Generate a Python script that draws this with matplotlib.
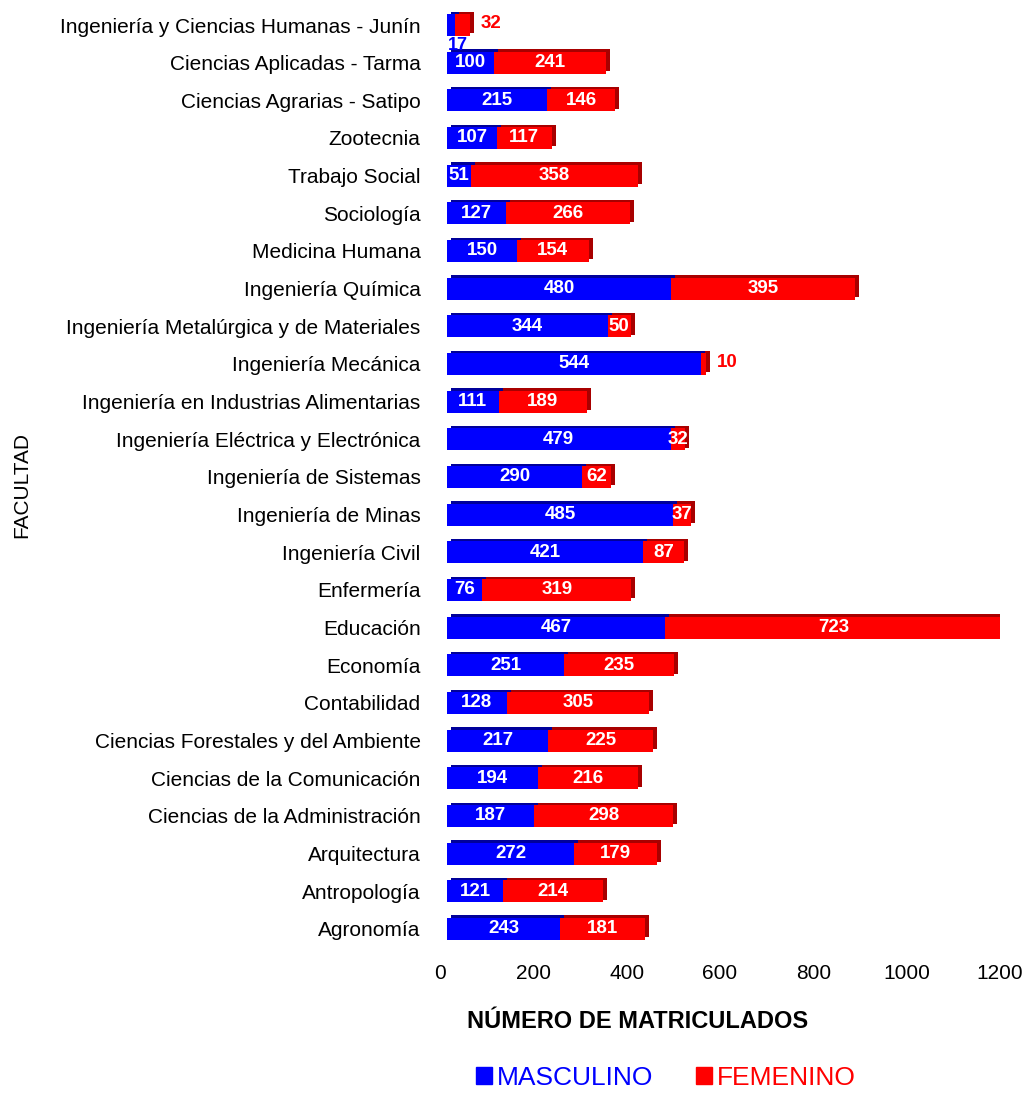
import matplotlib
matplotlib.use('Agg')
import matplotlib.pyplot as plt
import matplotlib.transforms as mtransforms
from matplotlib.patches import Patch

plt.rcParams['font.family'] = ['Liberation Sans', 'DejaVu Sans']

# Facultades, de arriba hacia abajo
facultades = ['Ingeniería y Ciencias Humanas - Junín', 'Ciencias Aplicadas - Tarma',
              'Ciencias Agrarias - Satipo', 'Zootecnia', 'Trabajo Social', 'Sociología',
              'Medicina Humana', 'Ingeniería Química', 'Ingeniería Metalúrgica y de Materiales',
              'Ingeniería Mecánica', 'Ingeniería en Industrias Alimentarias',
              'Ingeniería Eléctrica y Electrónica', 'Ingeniería de Sistemas',
              'Ingeniería de Minas', 'Ingeniería Civil', 'Enfermería', 'Educación',
              'Economía', 'Contabilidad', 'Ciencias Forestales y del Ambiente',
              'Ciencias de la Comunicación', 'Ciencias de la Administración',
              'Arquitectura', 'Antropología', 'Agronomía']
masculino = [17, 100, 215, 107, 51, 127, 150, 480, 344, 544, 111, 479, 290, 485, 421,
             76, 467, 251, 128, 217, 194, 187, 272, 121, 243]
femenino = [32, 241, 146, 117, 358, 266, 154, 395, 50, 10, 189, 32, 62, 37, 87,
            319, 723, 235, 305, 225, 216, 298, 179, 214, 181]
xticks = [0, 200, 400, 600, 800, 1000, 1200]

azul, azul_osc = '#0000ff', '#00009a'
rojo, rojo_osc = '#ff0000', '#a80000'

n = len(facultades)
ypos = [n - 1 - i for i in range(n)]

fig = plt.figure(figsize=(10.23, 10.95), dpi=100)
ax = fig.add_axes([0.4301, 0.1300, 0.5474, 0.8678])

# cara frontal desplazada y una copia oscura detras para simular profundidad 3D
front = mtransforms.ScaledTranslation(7 / 100, 0, fig.dpi_scale_trans)
depth = mtransforms.ScaledTranslation(11 / 100, 2.5 / 100, fig.dpi_scale_trans)
h = 0.58

ax.barh(ypos, masculino, height=h, color=azul_osc, transform=ax.transData + depth, zorder=1)
ax.barh(ypos, femenino, left=masculino, height=h, color=rojo_osc,
        transform=ax.transData + depth, zorder=1)
ax.barh(ypos, masculino, height=h, color=azul, transform=ax.transData + front, zorder=2)
ax.barh(ypos, femenino, left=masculino, height=h, color=rojo,
        transform=ax.transData + front, zorder=2)

for y, m, f in zip(ypos, masculino, femenino):
    if m < 30:
        ax.text(m / 2 + 14, y - h / 2 - 0.04, str(m), color=azul, fontsize=13,
                fontweight='bold', ha='center', va='top',
                transform=ax.transData + front, zorder=5)
    else:
        ax.text(m / 2, y, str(m), color='white', fontsize=13.5, fontweight='bold',
                ha='center', va='center', transform=ax.transData + front, zorder=3)
    if f < 30 or m + f < 60:
        ax.text(m + f + 24, y + 0.05, str(f), color=rojo, fontsize=13.5, fontweight='bold',
                ha='left', va='center', transform=ax.transData + front, zorder=3)
    else:
        ax.text(m + f / 2, y, str(f), color='white', fontsize=13.5, fontweight='bold',
                ha='center', va='center', transform=ax.transData + front, zorder=3)

ax.set_xlim(0, 1200)
ax.set_ylim(-0.63, n - 1 + 0.6)
ax.set_xticks(xticks)
ax.set_xticklabels([str(t) for t in xticks], fontsize=15)
ax.set_yticks(ypos)
ax.set_yticklabels(facultades, fontsize=15)
ax.tick_params(length=0)
ax.tick_params(axis='y', pad=14)
ax.tick_params(axis='x', pad=8)
for s in ax.spines.values():
    s.set_visible(False)

fig.text(638 / 1023, 1 - 1022 / 1095, 'NÚMERO DE MATRICULADOS', fontsize=17,
         fontweight='bold', ha='center', va='center')
fig.text(22 / 1023, 1 - 485 / 1095, 'FACULTAD', fontsize=15, rotation=90,
         ha='center', va='center')

handles = [Patch(color=azul, label='MASCULINO'), Patch(color=rojo, label='FEMENINO')]
fig.legend(handles=handles, loc='center', bbox_to_anchor=(666 / 1023, 1 - 1078 / 1095),
           ncol=2, frameon=False, fontsize=19, labelcolor=[azul, rojo],
           handlelength=0.6, handleheight=0.6, handletextpad=0.2, columnspacing=1.6,
           borderpad=0.1)

fig.savefig('out.png', dpi=100)
